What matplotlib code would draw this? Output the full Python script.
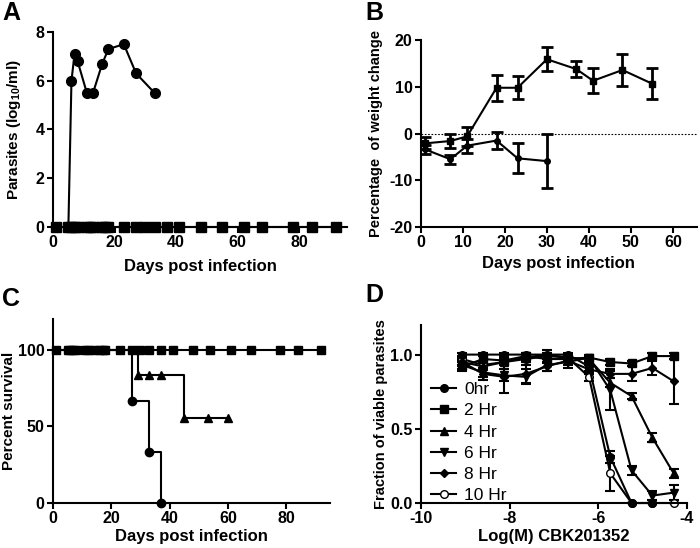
import matplotlib
matplotlib.use("Agg")
import matplotlib.pyplot as plt
from matplotlib.lines import Line2D
import numpy as np

plt.rcParams["font.family"] = ["Liberation Sans", "DejaVu Sans"]
plt.rcParams["font.weight"] = "bold"
plt.rcParams["axes.labelweight"] = "bold"
plt.rcParams["axes.unicode_minus"] = False
plt.rcParams["mathtext.fontset"] = "custom"
plt.rcParams["mathtext.bf"] = "Liberation Sans:bold"
plt.rcParams["mathtext.rm"] = "Liberation Sans:bold"
plt.rcParams["mathtext.default"] = "bf"

# --- Panel A: parasitemia ---
a_inf_days = [5, 6, 7, 8, 11, 13, 16, 18, 23, 27, 33]
a_inf_log = [0, 6.0, 7.1, 6.8, 5.5, 5.5, 6.7, 7.3, 7.5, 6.3, 5.5]
a_ctl_days = [1, 5, 6, 7, 8, 11, 12, 13, 16, 17, 18, 23, 27, 30, 33, 37, 41,
              48, 55, 62, 68, 78, 84, 92]
a_ctl_log = [0] * len(a_ctl_days)

# --- Panel B: weight change ---
b_days_sq = [1, 7, 11, 18, 23, 30, 37, 41, 48, 55]
b_sq = [-2.1, -1.6, -0.6, 9.8, 9.8, 15.9, 13.8, 11.3, 13.6, 10.7]
b_sq_err = [1.3, 1.4, 2.0, 2.8, 2.5, 2.6, 1.8, 2.7, 3.4, 3.4]
b_days_ci = [1, 7, 11, 18, 23, 30]
b_ci = [-3.4, -5.5, -2.6, -1.5, -5.3, -5.9]
b_ci_err = [1.0, 1.0, 1.5, 1.8, 3.2, 5.8]

# --- Panel C: survival ---
c_sq_days = [1, 5, 6, 7, 8, 11, 12, 14, 16, 17, 18, 23, 27, 30, 33, 37, 41,
             48, 54, 61, 68, 78, 84, 92]
c_sq_surv = [100] * len(c_sq_days)
c_tri_step_x = [0, 29, 45, 60]
c_tri_step_y = [100, 83.3, 55.6, 55.6]
c_tri_mark_x = [29, 33, 37, 45, 53, 60]
c_tri_mark_y = [83.3, 83.3, 83.3, 55.6, 55.6, 55.6]
c_ci_step_x = [0, 27, 33, 37]
c_ci_step_y = [100, 66.7, 33.3, 0]
c_ci_mark_x = [27, 33, 37]
c_ci_mark_y = [66.7, 33.3, 0]

# --- Panel D: dose response ---
d_logm = [-9.07, -8.6, -8.12, -7.64, -7.16, -6.69, -6.21, -5.73, -5.25, -4.78, -4.3]
d_0hr = [1.0, 1.0, 1.0, 1.0, 1.0, 1.0, 0.92, 0.31, 0.0, 0.0, np.nan]
d_0hr_err = [0.01, 0.01, 0.01, 0.01, 0.01, 0.01, 0.03, 0.04, 0, 0, 0]
d_2hr = [0.92, 0.97, 0.96, 0.99, 0.97, 0.97, 0.98, 0.95, 0.94, 0.99, 0.99]
d_2hr_err = [0.03, 0.02, 0.02, 0.02, 0.03, 0.02, 0.02, 0.02, 0.02, 0.02, 0.02]
d_4hr = [0.95, 0.92, 0.95, 0.98, 1.0, 0.98, 0.97, 0.81, 0.72, 0.44, 0.20]
d_4hr_err = [0.02, 0.02, 0.02, 0.02, 0.03, 0.02, 0.02, 0.03, 0.02, 0.03, 0.03]
d_6hr = [0.93, 0.88, 0.86, 0.85, 0.93, 0.95, 0.98, 0.76, 0.22, 0.05, 0.07]
d_6hr_err = [0.03, 0.03, 0.04, 0.05, 0.04, 0.04, 0.02, 0.13, 0.03, 0.03, 0.05]
d_8hr = [0.95, 0.87, 0.85, 0.87, 0.92, 0.96, 0.90, 0.87, 0.87, 0.91, 0.82]
d_8hr_err = [0.03, 0.04, 0.11, 0.06, 0.03, 0.03, 0.03, 0.03, 0.05, 0.05, 0.15]
d_10hr = [0.97, 0.93, 0.95, 0.97, 0.99, 0.98, 0.85, 0.20, 0.0, 0.0, 0.0]
d_10hr_err = [0.02, 0.02, 0.02, 0.02, 0.02, 0.02, 0.03, 0.12, 0, 0, 0]
d_labels = ["0hr", "2 Hr", "4 Hr", "6 Hr", "8 Hr", "10 Hr"]

LW = 1.5
TICK_FS = 11.5
XLABEL_FS = 12


def style_axes(ax):
    for side in ("top", "right"):
        ax.spines[side].set_visible(False)
    for side in ("left", "bottom"):
        ax.spines[side].set_linewidth(LW)
    ax.tick_params(direction="out", length=4, width=LW, labelsize=TICK_FS, pad=2)
    for lab in ax.get_xticklabels() + ax.get_yticklabels():
        lab.set_fontweight("bold")


fig = plt.figure(figsize=(7, 5.48), dpi=100)

# Panel A
ax = fig.add_axes([0.0757, 0.5858, 0.42, 0.3558])
ax.plot(a_inf_days, a_inf_log, "-o", color="black", lw=LW, ms=7, clip_on=False)
ax.plot(a_ctl_days, a_ctl_log, "-s", color="black", lw=LW, ms=7, clip_on=False, zorder=3)
ax.set_xlim(0, 95.5)
ax.set_ylim(0, 8)
ax.set_xticks([0, 20, 40, 60, 80])
ax.set_yticks([0, 2, 4, 6, 8])
ax.set_xlabel("Days post infection", fontsize=XLABEL_FS, labelpad=6)
ax.set_ylabel("Parasites (log$_{10}$/ml)", fontsize=11)
ax.yaxis.set_label_coords(-0.102, 0.5)
style_axes(ax)

# Panel B
ax = fig.add_axes([0.6014, 0.5858, 0.394, 0.341])
ax.axhline(0, color="black", lw=0.8, ls=(0, (1.5, 1.5)))
ax.errorbar(b_days_sq, b_sq, yerr=b_sq_err, fmt="-s", color="black", lw=LW,
            ms=5, elinewidth=2, capsize=4, capthick=2)
ax.errorbar(b_days_ci, b_ci, yerr=b_ci_err, fmt="-o", color="black", lw=LW,
            ms=4, elinewidth=2, capsize=4, capthick=2)
ax.set_xlim(0, 65.7)
ax.set_ylim(-20, 20)
ax.set_xticks([0, 10, 20, 30, 40, 50, 60])
ax.set_yticks([-20, -10, 0, 10, 20])
ax.set_xlabel("Days post infection", fontsize=XLABEL_FS, labelpad=4)
ax.set_ylabel("Percentage  of weight change", fontsize=10.5)
ax.yaxis.set_label_coords(-0.138, 0.5)
style_axes(ax)

# Panel C
ax = fig.add_axes([0.0757, 0.0821, 0.3957, 0.3358])
ax.plot(c_sq_days, c_sq_surv, "-s", color="black", lw=LW, ms=6, clip_on=False)
ax.step(c_tri_step_x, c_tri_step_y, where="post", color="black", lw=LW)
ax.plot(c_tri_mark_x, c_tri_mark_y, "^", color="black", ms=6, ls="none")
ax.step(c_ci_step_x, c_ci_step_y, where="post", color="black", lw=LW, clip_on=False)
ax.plot(c_ci_mark_x, c_ci_mark_y, "o", color="black", ms=6, ls="none", clip_on=False)
ax.set_xlim(0, 95)
ax.set_ylim(0, 120)
ax.set_xticks([0, 20, 40, 60, 80])
ax.set_yticks([0, 50, 100])
ax.set_xlabel("Days post infection", fontsize=XLABEL_FS, labelpad=2)
ax.set_ylabel("Percent survival", fontsize=11)
ax.yaxis.set_label_coords(-0.134, 0.5)
style_axes(ax)

# Panel D
ax = fig.add_axes([0.6014, 0.0821, 0.38, 0.325])
d_series = [
    ("10 Hr", d_10hr, d_10hr_err, "o", "white"),
    ("0hr", d_0hr, d_0hr_err, "o", "black"),
    ("2 Hr", d_2hr, d_2hr_err, "s", "black"),
    ("4 Hr", d_4hr, d_4hr_err, "^", "black"),
    ("6 Hr", d_6hr, d_6hr_err, "v", "black"),
    ("8 Hr", d_8hr, d_8hr_err, "D", "black"),
]
handles = {}
for name, vals, errs, mk, fc in d_series:
    ms = 4 if mk == "D" else 5.5
    ax.errorbar(d_logm, vals, yerr=errs, fmt="-" + mk, color="black",
                mfc=fc, mec="black", lw=LW, ms=ms, elinewidth=1.5,
                capsize=3.5, capthick=1.5, clip_on=False)
    handles[name] = Line2D([], [], color="black", lw=LW, marker=mk, ms=ms,
                           mfc=fc, mec="black")
ax.legend([handles[n] for n in d_labels], d_labels,
          loc="lower left", bbox_to_anchor=(0.0, -0.06), frameon=False,
          handlelength=1.4, labelspacing=0.35, handletextpad=0.5,
          borderaxespad=0.2, prop={"size": 12.5, "weight": "normal"})
ax.set_xlim(-10, -4)
ax.set_ylim(0, 1.2)
ax.set_xticks([-10, -8, -6, -4])
ax.set_yticks([0.0, 0.5, 1.0])
ax.set_yticklabels(["0.0", "0.5", "1.0"])
ax.set_xlabel("Log(M) CBK201352", fontsize=XLABEL_FS, labelpad=2)
ax.set_ylabel("Fraction of viable parasites", fontsize=10.5)
ax.yaxis.set_label_coords(-0.124, 0.5)
style_axes(ax)

# panel letters
for letter, x, y in [("A", 0.003, 0.955), ("B", 0.522, 0.955),
                     ("C", 0.003, 0.432), ("D", 0.522, 0.440)]:
    fig.text(x, y, letter, fontsize=18, fontweight="bold", va="bottom")

fig.savefig("out.png", dpi=100)
